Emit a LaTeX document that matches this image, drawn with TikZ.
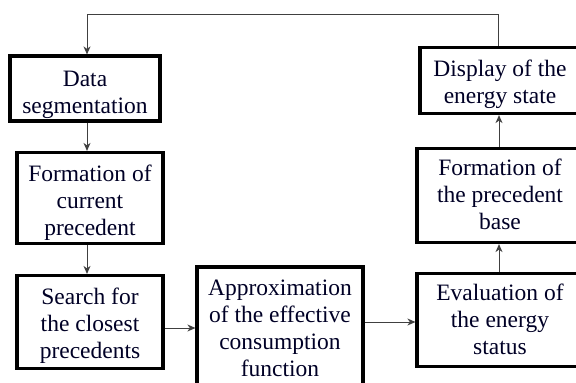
\documentclass[tikz,border=0pt]{standalone}
\usepackage{fontspec}
\setmainfont{Liberation Serif}
\usetikzlibrary{arrows.meta}
\begin{document}
\begin{tikzpicture}[x=1pt,y=-1pt,
  blk/.style={draw=black,line width=3.2pt,fill=white,inner sep=0pt},
  txt/.style={align=center,inner sep=0pt,font=\fontsize{23.5}{27}\selectfont,text=black!85!blue},
  conn/.style={draw=black!75,line width=1pt,-{Stealth[length=8pt,width=7pt,inset=2.5pt]}}]
\useasboundingbox (0,0) rectangle (576,383);
\clip (0,0) rectangle (576,383);
\fill[white] (0,0) rectangle (576,383);
\node[blk,minimum width=150pt,minimum height=65pt] (ds) at (85,88.5) {};
\node[txt,yshift=-6pt] (tds) at (ds.center) {Data\\segmentation};
\node[blk,minimum width=146pt,minimum height=91pt] (fc) at (90,198) {};
\node[txt,yshift=-5pt] (tfc) at (fc.center) {Formation of\\current\\precedent};
\node[blk,minimum width=146pt,minimum height=93pt] (sc) at (90,322) {};
\node[txt,yshift=-4pt] (tsc) at (sc.center) {Search for\\the closest\\precedents};
\node[blk,minimum width=166pt,minimum height=122pt] (ap) at (280,328) {};
\node[txt] (tap) at (ap.center) {Approximation\\of the effective\\consumption\\function};
\node[blk,minimum width=166pt,minimum height=93pt] (ev) at (500,320) {};
\node[txt,yshift=1pt] (tev) at (ev.center) {Evaluation of\\the energy\\status};
\node[blk,minimum width=166pt,minimum height=94pt] (fb) at (500,195.5) {};
\node[txt,yshift=1pt] (tfb) at (fb.center) {Formation of\\the precedent\\base};
\node[blk,minimum width=160pt,minimum height=66pt] (dp) at (500,80.5) {};
\node[txt,yshift=-4pt] (tdp) at (dp.center) {Display of the\\energy state};
\coordinate (c1) at (498,14);
\coordinate (c2) at (87,14);
\draw[conn] (dp.north -| c1) -- (c1) -- (c2) -- (c2 |- ds.north);
\draw[conn] (87,0 |- ds.south) -- (87,0 |- fc.north);
\draw[conn] (87,0 |- fc.south) -- (87,0 |- sc.north);
\draw[conn] (sc.east |- 0,328) -- (ap.west |- 0,328);
\draw[conn] (ap.east |- 0,322) -- (ev.west |- 0,322);
\draw[conn] (499,0 |- ev.north) -- (499,0 |- fb.south);
\draw[conn] (499,0 |- fb.north) -- (499,0 |- dp.south);
\end{tikzpicture}
\end{document}
